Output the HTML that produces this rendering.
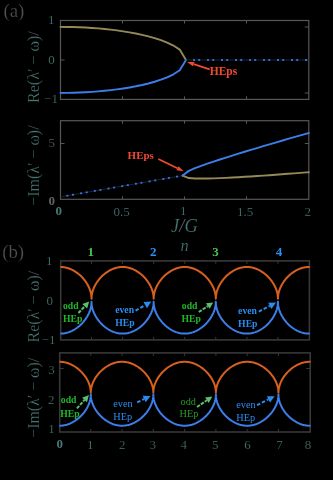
<!DOCTYPE html>
<html><head><meta charset="utf-8"><style>
html,body{margin:0;padding:0;background:#000;width:333px;height:480px;overflow:hidden}
svg{display:block;will-change:transform}
text{font-family:"Liberation Serif", serif}
</style></head><body>
<svg width="333" height="480" viewBox="0 0 333 480">
<rect width="333" height="480" fill="#000"/>
<rect x="60.5" y="20.5" width="248.3" height="78.9" fill="none" stroke="#575757" stroke-width="1.2"/>
<line x1="122.5" y1="20.5" x2="122.5" y2="23.5" stroke="#575757" stroke-width="1" />
<line x1="122.5" y1="99.4" x2="122.5" y2="96.4" stroke="#575757" stroke-width="1" />
<line x1="184.5" y1="20.5" x2="184.5" y2="23.5" stroke="#575757" stroke-width="1" />
<line x1="184.5" y1="99.4" x2="184.5" y2="96.4" stroke="#575757" stroke-width="1" />
<line x1="246.5" y1="20.5" x2="246.5" y2="23.5" stroke="#575757" stroke-width="1" />
<line x1="246.5" y1="99.4" x2="246.5" y2="96.4" stroke="#575757" stroke-width="1" />
<line x1="60.5" y1="27" x2="64.5" y2="27" stroke="#575757" stroke-width="1" />
<line x1="308.8" y1="27" x2="304.8" y2="27" stroke="#575757" stroke-width="1" />
<line x1="60.5" y1="60" x2="64.5" y2="60" stroke="#575757" stroke-width="1" />
<line x1="308.8" y1="60" x2="304.8" y2="60" stroke="#575757" stroke-width="1" />
<line x1="60.5" y1="93" x2="64.5" y2="93" stroke="#575757" stroke-width="1" />
<line x1="308.8" y1="93" x2="304.8" y2="93" stroke="#575757" stroke-width="1" />
<path d="M60.5,26.9 66.78,26.94 73.05,27.07 79.33,27.27 85.6,27.57 91.88,27.95 98.15,28.42 104.42,28.99 110.7,29.66 116.97,30.43 123.25,31.32 129.53,32.34 135.8,33.5 142.07,34.82 148.35,36.33 154.62,38.07 160.9,40.1 167.18,42.52 173.45,45.52 179.72,49.6 186,59.9" fill="none" stroke="#958a56" stroke-width="1.9" stroke-linejoin="round" stroke-linecap="round" />
<path d="M60.5,92.9 66.78,92.86 73.05,92.73 79.33,92.53 85.6,92.23 91.88,91.85 98.15,91.38 104.42,90.81 110.7,90.14 116.97,89.37 123.25,88.48 129.53,87.46 135.8,86.3 142.07,84.98 148.35,83.47 154.62,81.73 160.9,79.7 167.18,77.28 173.45,74.28 179.72,70.2 186,59.9" fill="none" stroke="#3d7eea" stroke-width="1.9" stroke-linejoin="round" stroke-linecap="round" />
<line x1="186" y1="60" x2="308.8" y2="60" stroke="#15233f" stroke-width="1" />
<rect x="193" y="59.1" width="2" height="1.8" fill="#3a74dc"/>
<rect x="198.2" y="59.1" width="2" height="1.8" fill="#3a74dc"/>
<rect x="207" y="59.1" width="2" height="1.8" fill="#3a74dc"/>
<rect x="212.2" y="59.1" width="2" height="1.8" fill="#3a74dc"/>
<rect x="221" y="59.1" width="2" height="1.8" fill="#3a74dc"/>
<rect x="226.2" y="59.1" width="2" height="1.8" fill="#3a74dc"/>
<rect x="235" y="59.1" width="2" height="1.8" fill="#3a74dc"/>
<rect x="240.2" y="59.1" width="2" height="1.8" fill="#3a74dc"/>
<rect x="249" y="59.1" width="2" height="1.8" fill="#3a74dc"/>
<rect x="254.2" y="59.1" width="2" height="1.8" fill="#3a74dc"/>
<rect x="263" y="59.1" width="2" height="1.8" fill="#3a74dc"/>
<rect x="268.2" y="59.1" width="2" height="1.8" fill="#3a74dc"/>
<rect x="277" y="59.1" width="2" height="1.8" fill="#3a74dc"/>
<rect x="282.2" y="59.1" width="2" height="1.8" fill="#3a74dc"/>
<rect x="291" y="59.1" width="2" height="1.8" fill="#3a74dc"/>
<rect x="296.2" y="59.1" width="2" height="1.8" fill="#3a74dc"/>
<rect x="305" y="59.1" width="2" height="1.8" fill="#3a74dc"/>
<line x1="209.7" y1="69.4" x2="193.66" y2="64.17" stroke="#f04a32" stroke-width="1.7" />
<polygon points="187,62 194.37,61.98 192.94,66.36" fill="#f04a32"/>
<rect x="60.5" y="120.7" width="248.3" height="78.6" fill="none" stroke="#575757" stroke-width="1.2"/>
<line x1="122.5" y1="120.7" x2="122.5" y2="123.7" stroke="#575757" stroke-width="1" />
<line x1="122.5" y1="199.3" x2="122.5" y2="196.3" stroke="#575757" stroke-width="1" />
<line x1="184.5" y1="120.7" x2="184.5" y2="123.7" stroke="#575757" stroke-width="1" />
<line x1="184.5" y1="199.3" x2="184.5" y2="196.3" stroke="#575757" stroke-width="1" />
<line x1="246.5" y1="120.7" x2="246.5" y2="123.7" stroke="#575757" stroke-width="1" />
<line x1="246.5" y1="199.3" x2="246.5" y2="196.3" stroke="#575757" stroke-width="1" />
<line x1="60.5" y1="143.5" x2="64.5" y2="143.5" stroke="#575757" stroke-width="1" />
<line x1="308.8" y1="143.5" x2="304.8" y2="143.5" stroke="#575757" stroke-width="1" />
<line x1="60.5" y1="196.9" x2="182.6" y2="175.6" stroke="#15233f" stroke-width="1" />
<rect x="66.4" y="194.8" width="2" height="1.8" fill="#3a74dc"/>
<rect x="72" y="193.82" width="2" height="1.8" fill="#3a74dc"/>
<rect x="80.1" y="192.41" width="2" height="1.8" fill="#3a74dc"/>
<rect x="85.7" y="191.43" width="2" height="1.8" fill="#3a74dc"/>
<rect x="93.8" y="190.02" width="2" height="1.8" fill="#3a74dc"/>
<rect x="99.4" y="189.04" width="2" height="1.8" fill="#3a74dc"/>
<rect x="107.5" y="187.63" width="2" height="1.8" fill="#3a74dc"/>
<rect x="113.1" y="186.65" width="2" height="1.8" fill="#3a74dc"/>
<rect x="121.2" y="185.24" width="2" height="1.8" fill="#3a74dc"/>
<rect x="126.8" y="184.26" width="2" height="1.8" fill="#3a74dc"/>
<rect x="134.9" y="182.85" width="2" height="1.8" fill="#3a74dc"/>
<rect x="140.5" y="181.87" width="2" height="1.8" fill="#3a74dc"/>
<rect x="148.6" y="180.46" width="2" height="1.8" fill="#3a74dc"/>
<rect x="154.2" y="179.48" width="2" height="1.8" fill="#3a74dc"/>
<rect x="162.3" y="178.07" width="2" height="1.8" fill="#3a74dc"/>
<rect x="167.9" y="177.09" width="2" height="1.8" fill="#3a74dc"/>
<rect x="176" y="175.68" width="2" height="1.8" fill="#3a74dc"/>
<path d="M182.6,175.6 188.8,178.06 195,178.47 201.2,178.57 207.4,178.51 213.6,178.35 219.8,178.12 226,177.85 232.2,177.53 238.4,177.19 244.6,176.82 250.8,176.43 257,176.03 263.2,175.61 269.4,175.18 275.6,174.73 281.8,174.28 288,173.82 294.2,173.35 300.4,172.88 306.6,172.4 308.8,172.23" fill="none" stroke="#958a56" stroke-width="1.9" stroke-linejoin="round" stroke-linecap="round" />
<path d="M182.6,175.6 188.8,170.88 195,168.21 201.2,165.85 207.4,163.65 213.6,161.55 219.8,159.52 226,157.53 232.2,155.59 238.4,153.67 244.6,151.78 250.8,149.91 257,148.05 263.2,146.21 269.4,144.38 275.6,142.57 281.8,140.76 288,138.96 294.2,137.17 300.4,135.38 306.6,133.6 308.8,132.97" fill="none" stroke="#3d7eea" stroke-width="1.9" stroke-linejoin="round" stroke-linecap="round" />
<line x1="158.3" y1="158.9" x2="177.41" y2="168.23" stroke="#f04a32" stroke-width="1.7" />
<polygon points="183.7,171.3 176.4,170.3 178.42,166.16" fill="#f04a32"/>
<rect x="60.7" y="260.9" width="248.7" height="79" fill="none" stroke="#383838" stroke-width="1.6"/>
<line x1="91.52" y1="260.9" x2="91.52" y2="263.9" stroke="#383838" stroke-width="1" />
<line x1="91.52" y1="339.9" x2="91.52" y2="336.9" stroke="#383838" stroke-width="1" />
<line x1="122.59" y1="260.9" x2="122.59" y2="263.9" stroke="#383838" stroke-width="1" />
<line x1="122.59" y1="339.9" x2="122.59" y2="336.9" stroke="#383838" stroke-width="1" />
<line x1="153.66" y1="260.9" x2="153.66" y2="263.9" stroke="#383838" stroke-width="1" />
<line x1="153.66" y1="339.9" x2="153.66" y2="336.9" stroke="#383838" stroke-width="1" />
<line x1="184.73" y1="260.9" x2="184.73" y2="263.9" stroke="#383838" stroke-width="1" />
<line x1="184.73" y1="339.9" x2="184.73" y2="336.9" stroke="#383838" stroke-width="1" />
<line x1="215.8" y1="260.9" x2="215.8" y2="263.9" stroke="#383838" stroke-width="1" />
<line x1="215.8" y1="339.9" x2="215.8" y2="336.9" stroke="#383838" stroke-width="1" />
<line x1="246.87" y1="260.9" x2="246.87" y2="263.9" stroke="#383838" stroke-width="1" />
<line x1="246.87" y1="339.9" x2="246.87" y2="336.9" stroke="#383838" stroke-width="1" />
<line x1="277.94" y1="260.9" x2="277.94" y2="263.9" stroke="#383838" stroke-width="1" />
<line x1="277.94" y1="339.9" x2="277.94" y2="336.9" stroke="#383838" stroke-width="1" />
<path d="M61.23,267.01 62,267.05 62.78,267.11 63.56,267.2 64.33,267.31 65.11,267.44 65.89,267.6 66.66,267.79 67.44,268 68.22,268.23 68.99,268.5 69.77,268.78 70.55,269.1 71.32,269.44 72.1,269.8 72.88,270.2 73.65,270.62 74.43,271.07 75.21,271.55 75.98,272.06 76.76,272.6 77.54,273.17 78.32,273.78 79.09,274.42 79.87,275.1 80.65,275.81 81.42,276.57 82.2,277.37 82.98,278.22 83.75,279.13 84.53,280.09 85.31,281.12 86.08,282.23 86.86,283.44 87.64,284.75 88.41,286.22 89.19,287.9 89.66,289.04 89.97,289.89 90.43,291.35 90.74,292.5 90.9,293.16 91.21,294.81 91.36,295.98 91.46,297.02 91.52,298.8 91.58,297.02 91.68,295.98 91.83,294.81 92.14,293.16 92.3,292.5 92.61,291.35 93.07,289.89 93.38,289.04 93.85,287.9 94.63,286.22 95.4,284.75 96.18,283.44 96.96,282.23 97.73,281.12 98.51,280.09 99.29,279.13 100.06,278.22 100.84,277.37 101.62,276.57 102.39,275.81 103.17,275.1 103.95,274.42 104.72,273.78 105.5,273.17 106.28,272.6 107.06,272.06 107.83,271.55 108.61,271.07 109.39,270.62 110.16,270.2 110.94,269.8 111.72,269.44 112.49,269.1 113.27,268.78 114.05,268.5 114.82,268.23 115.6,268 116.38,267.79 117.15,267.6 117.93,267.44 118.71,267.31 119.48,267.2 120.26,267.11 121.04,267.05 121.81,267.01 122.59,267 123.37,267.01 124.14,267.05 124.92,267.11 125.7,267.2 126.47,267.31 127.25,267.44 128.03,267.6 128.8,267.79 129.58,268 130.36,268.23 131.13,268.5 131.91,268.78 132.69,269.1 133.46,269.44 134.24,269.8 135.02,270.2 135.79,270.62 136.57,271.07 137.35,271.55 138.12,272.06 138.9,272.6 139.68,273.17 140.46,273.78 141.23,274.42 142.01,275.1 142.79,275.81 143.56,276.57 144.34,277.37 145.12,278.22 145.89,279.13 146.67,280.09 147.45,281.12 148.22,282.23 149,283.44 149.78,284.75 150.55,286.22 151.33,287.9 151.8,289.04 152.11,289.89 152.57,291.35 152.88,292.5 153.04,293.16 153.35,294.81 153.5,295.98 153.6,297.02 153.66,298.8 153.72,297.02 153.82,295.98 153.97,294.81 154.28,293.16 154.44,292.5 154.75,291.35 155.21,289.89 155.52,289.04 155.99,287.9 156.77,286.22 157.54,284.75 158.32,283.44 159.1,282.23 159.87,281.12 160.65,280.09 161.43,279.13 162.2,278.22 162.98,277.37 163.76,276.57 164.53,275.81 165.31,275.1 166.09,274.42 166.86,273.78 167.64,273.17 168.42,272.6 169.19,272.06 169.97,271.55 170.75,271.07 171.53,270.62 172.3,270.2 173.08,269.8 173.86,269.44 174.63,269.1 175.41,268.78 176.19,268.5 176.96,268.23 177.74,268 178.52,267.79 179.29,267.6 180.07,267.44 180.85,267.31 181.62,267.2 182.4,267.11 183.18,267.05 183.95,267.01 184.73,267 185.51,267.01 186.28,267.05 187.06,267.11 187.84,267.2 188.61,267.31 189.39,267.44 190.17,267.6 190.94,267.79 191.72,268 192.5,268.23 193.27,268.5 194.05,268.78 194.83,269.1 195.6,269.44 196.38,269.8 197.16,270.2 197.93,270.62 198.71,271.07 199.49,271.55 200.26,272.06 201.04,272.6 201.82,273.17 202.6,273.78 203.37,274.42 204.15,275.1 204.93,275.81 205.7,276.57 206.48,277.37 207.26,278.22 208.03,279.13 208.81,280.09 209.59,281.12 210.36,282.23 211.14,283.44 211.92,284.75 212.69,286.22 213.47,287.9 213.94,289.04 214.25,289.89 214.71,291.35 215.02,292.5 215.18,293.16 215.49,294.81 215.64,295.98 215.74,297.02 215.8,298.8 215.86,297.02 215.96,295.98 216.11,294.81 216.42,293.16 216.58,292.5 216.89,291.35 217.35,289.89 217.66,289.04 218.13,287.9 218.91,286.22 219.68,284.75 220.46,283.44 221.24,282.23 222.01,281.12 222.79,280.09 223.57,279.13 224.34,278.22 225.12,277.37 225.9,276.57 226.67,275.81 227.45,275.1 228.23,274.42 229,273.78 229.78,273.17 230.56,272.6 231.33,272.06 232.11,271.55 232.89,271.07 233.67,270.62 234.44,270.2 235.22,269.8 236,269.44 236.77,269.1 237.55,268.78 238.33,268.5 239.1,268.23 239.88,268 240.66,267.79 241.43,267.6 242.21,267.44 242.99,267.31 243.76,267.2 244.54,267.11 245.32,267.05 246.09,267.01 246.87,267 247.65,267.01 248.42,267.05 249.2,267.11 249.98,267.2 250.75,267.31 251.53,267.44 252.31,267.6 253.08,267.79 253.86,268 254.64,268.23 255.41,268.5 256.19,268.78 256.97,269.1 257.74,269.44 258.52,269.8 259.3,270.2 260.07,270.62 260.85,271.07 261.63,271.55 262.41,272.06 263.18,272.6 263.96,273.17 264.74,273.78 265.51,274.42 266.29,275.1 267.07,275.81 267.84,276.57 268.62,277.37 269.4,278.22 270.17,279.13 270.95,280.09 271.73,281.12 272.5,282.23 273.28,283.44 274.06,284.75 274.83,286.22 275.61,287.9 276.08,289.04 276.39,289.89 276.85,291.35 277.16,292.5 277.32,293.16 277.63,294.81 277.78,295.98 277.88,297.02 277.94,298.8 278,297.02 278.1,295.98 278.25,294.81 278.56,293.16 278.72,292.5 279.03,291.35 279.49,289.89 279.8,289.04 280.27,287.9 281.05,286.22 281.82,284.75 282.6,283.44 283.38,282.23 284.15,281.12 284.93,280.09 285.71,279.13 286.48,278.22 287.26,277.37 288.04,276.57 288.81,275.81 289.59,275.1 290.37,274.42 291.14,273.78 291.92,273.17 292.7,272.6 293.48,272.06 294.25,271.55 295.03,271.07 295.81,270.62 296.58,270.2 297.36,269.8 298.14,269.44 298.91,269.1 299.69,268.78 300.47,268.5 301.24,268.23 302.02,268 302.8,267.79 303.57,267.6 304.35,267.44 305.13,267.31 305.9,267.2 306.68,267.11 307.46,267.05 308.23,267.01 309.01,267" fill="none" stroke="#d8601e" stroke-width="2" stroke-linejoin="round" stroke-linecap="round" />
<path d="M61.23,333.59 62,333.55 62.78,333.49 63.56,333.4 64.33,333.29 65.11,333.16 65.89,333 66.66,332.81 67.44,332.6 68.22,332.36 68.99,332.1 69.77,331.81 70.55,331.5 71.32,331.16 72.1,330.79 72.88,330.39 73.65,329.97 74.43,329.52 75.21,329.04 75.98,328.52 76.76,327.98 77.54,327.41 78.32,326.8 79.09,326.16 79.87,325.48 80.65,324.76 81.42,324 82.2,323.19 82.98,322.34 83.75,321.43 84.53,320.47 85.31,319.43 86.08,318.32 86.86,317.11 87.64,315.79 88.41,314.32 89.19,312.64 89.66,311.49 89.97,310.64 90.43,309.18 90.74,308.02 90.9,307.35 91.21,305.7 91.36,304.53 91.46,303.49 91.52,301.7 91.58,303.49 91.68,304.53 91.83,305.7 92.14,307.35 92.3,308.02 92.61,309.18 93.07,310.64 93.38,311.49 93.85,312.64 94.63,314.32 95.4,315.79 96.18,317.11 96.96,318.32 97.73,319.43 98.51,320.47 99.29,321.43 100.06,322.34 100.84,323.19 101.62,324 102.39,324.76 103.17,325.48 103.95,326.16 104.72,326.8 105.5,327.41 106.28,327.98 107.06,328.52 107.83,329.04 108.61,329.52 109.39,329.97 110.16,330.39 110.94,330.79 111.72,331.16 112.49,331.5 113.27,331.81 114.05,332.1 114.82,332.36 115.6,332.6 116.38,332.81 117.15,333 117.93,333.16 118.71,333.29 119.48,333.4 120.26,333.49 121.04,333.55 121.81,333.59 122.59,333.6 123.37,333.59 124.14,333.55 124.92,333.49 125.7,333.4 126.47,333.29 127.25,333.16 128.03,333 128.8,332.81 129.58,332.6 130.36,332.36 131.13,332.1 131.91,331.81 132.69,331.5 133.46,331.16 134.24,330.79 135.02,330.39 135.79,329.97 136.57,329.52 137.35,329.04 138.12,328.52 138.9,327.98 139.68,327.41 140.46,326.8 141.23,326.16 142.01,325.48 142.79,324.76 143.56,324 144.34,323.19 145.12,322.34 145.89,321.43 146.67,320.47 147.45,319.43 148.22,318.32 149,317.11 149.78,315.79 150.55,314.32 151.33,312.64 151.8,311.49 152.11,310.64 152.57,309.18 152.88,308.02 153.04,307.35 153.35,305.7 153.5,304.53 153.6,303.49 153.66,301.7 153.72,303.49 153.82,304.53 153.97,305.7 154.28,307.35 154.44,308.02 154.75,309.18 155.21,310.64 155.52,311.49 155.99,312.64 156.77,314.32 157.54,315.79 158.32,317.11 159.1,318.32 159.87,319.43 160.65,320.47 161.43,321.43 162.2,322.34 162.98,323.19 163.76,324 164.53,324.76 165.31,325.48 166.09,326.16 166.86,326.8 167.64,327.41 168.42,327.98 169.19,328.52 169.97,329.04 170.75,329.52 171.53,329.97 172.3,330.39 173.08,330.79 173.86,331.16 174.63,331.5 175.41,331.81 176.19,332.1 176.96,332.36 177.74,332.6 178.52,332.81 179.29,333 180.07,333.16 180.85,333.29 181.62,333.4 182.4,333.49 183.18,333.55 183.95,333.59 184.73,333.6 185.51,333.59 186.28,333.55 187.06,333.49 187.84,333.4 188.61,333.29 189.39,333.16 190.17,333 190.94,332.81 191.72,332.6 192.5,332.36 193.27,332.1 194.05,331.81 194.83,331.5 195.6,331.16 196.38,330.79 197.16,330.39 197.93,329.97 198.71,329.52 199.49,329.04 200.26,328.52 201.04,327.98 201.82,327.41 202.6,326.8 203.37,326.16 204.15,325.48 204.93,324.76 205.7,324 206.48,323.19 207.26,322.34 208.03,321.43 208.81,320.47 209.59,319.43 210.36,318.32 211.14,317.11 211.92,315.79 212.69,314.32 213.47,312.64 213.94,311.49 214.25,310.64 214.71,309.18 215.02,308.02 215.18,307.35 215.49,305.7 215.64,304.53 215.74,303.49 215.8,301.7 215.86,303.49 215.96,304.53 216.11,305.7 216.42,307.35 216.58,308.02 216.89,309.18 217.35,310.64 217.66,311.49 218.13,312.64 218.91,314.32 219.68,315.79 220.46,317.11 221.24,318.32 222.01,319.43 222.79,320.47 223.57,321.43 224.34,322.34 225.12,323.19 225.9,324 226.67,324.76 227.45,325.48 228.23,326.16 229,326.8 229.78,327.41 230.56,327.98 231.33,328.52 232.11,329.04 232.89,329.52 233.67,329.97 234.44,330.39 235.22,330.79 236,331.16 236.77,331.5 237.55,331.81 238.33,332.1 239.1,332.36 239.88,332.6 240.66,332.81 241.43,333 242.21,333.16 242.99,333.29 243.76,333.4 244.54,333.49 245.32,333.55 246.09,333.59 246.87,333.6 247.65,333.59 248.42,333.55 249.2,333.49 249.98,333.4 250.75,333.29 251.53,333.16 252.31,333 253.08,332.81 253.86,332.6 254.64,332.36 255.41,332.1 256.19,331.81 256.97,331.5 257.74,331.16 258.52,330.79 259.3,330.39 260.07,329.97 260.85,329.52 261.63,329.04 262.41,328.52 263.18,327.98 263.96,327.41 264.74,326.8 265.51,326.16 266.29,325.48 267.07,324.76 267.84,324 268.62,323.19 269.4,322.34 270.17,321.43 270.95,320.47 271.73,319.43 272.5,318.32 273.28,317.11 274.06,315.79 274.83,314.32 275.61,312.64 276.08,311.49 276.39,310.64 276.85,309.18 277.16,308.02 277.32,307.35 277.63,305.7 277.78,304.53 277.88,303.49 277.94,301.7 278,303.49 278.1,304.53 278.25,305.7 278.56,307.35 278.72,308.02 279.03,309.18 279.49,310.64 279.8,311.49 280.27,312.64 281.05,314.32 281.82,315.79 282.6,317.11 283.38,318.32 284.15,319.43 284.93,320.47 285.71,321.43 286.48,322.34 287.26,323.19 288.04,324 288.81,324.76 289.59,325.48 290.37,326.16 291.14,326.8 291.92,327.41 292.7,327.98 293.48,328.52 294.25,329.04 295.03,329.52 295.81,329.97 296.58,330.39 297.36,330.79 298.14,331.16 298.91,331.5 299.69,331.81 300.47,332.1 301.24,332.36 302.02,332.6 302.8,332.81 303.57,333 304.35,333.16 305.13,333.29 305.9,333.4 306.68,333.49 307.46,333.55 308.23,333.59 309.01,333.6" fill="none" stroke="#3d7eea" stroke-width="2" stroke-linejoin="round" stroke-linecap="round" />
<line x1="78.4" y1="313" x2="84.73" y2="306.32" stroke="#5cbf6e" stroke-width="2" stroke-dasharray="3.5,1.2"/>
<polygon points="89.2,301.6 87.13,308.59 82.33,304.05" fill="#5cbf6e"/>
<line x1="135.6" y1="310.7" x2="145.24" y2="305.11" stroke="#2a8cf0" stroke-width="2" stroke-dasharray="3.5,2"/>
<polygon points="151.3,301.6 147,308.14 143.49,302.08" fill="#2a8cf0"/>
<line x1="198.8" y1="312" x2="207.77" y2="306.08" stroke="#5cbf6e" stroke-width="2" stroke-dasharray="3.5,1.2"/>
<polygon points="213.2,302.5 209.59,308.83 205.96,303.32" fill="#5cbf6e"/>
<line x1="258.8" y1="311.6" x2="269.8" y2="305.85" stroke="#2a8cf0" stroke-width="2" stroke-dasharray="3.5,2"/>
<polygon points="276,302.6 271.42,308.95 268.18,302.74" fill="#2a8cf0"/>
<rect x="59.7" y="352.9" width="250.5" height="79.1" fill="none" stroke="#383838" stroke-width="1.6"/>
<line x1="90.78" y1="352.9" x2="90.78" y2="355.9" stroke="#383838" stroke-width="1" />
<line x1="90.78" y1="432" x2="90.78" y2="429" stroke="#383838" stroke-width="1" />
<line x1="122.06" y1="352.9" x2="122.06" y2="355.9" stroke="#383838" stroke-width="1" />
<line x1="122.06" y1="432" x2="122.06" y2="429" stroke="#383838" stroke-width="1" />
<line x1="153.34" y1="352.9" x2="153.34" y2="355.9" stroke="#383838" stroke-width="1" />
<line x1="153.34" y1="432" x2="153.34" y2="429" stroke="#383838" stroke-width="1" />
<line x1="184.62" y1="352.9" x2="184.62" y2="355.9" stroke="#383838" stroke-width="1" />
<line x1="184.62" y1="432" x2="184.62" y2="429" stroke="#383838" stroke-width="1" />
<line x1="215.9" y1="352.9" x2="215.9" y2="355.9" stroke="#383838" stroke-width="1" />
<line x1="215.9" y1="432" x2="215.9" y2="429" stroke="#383838" stroke-width="1" />
<line x1="247.18" y1="352.9" x2="247.18" y2="355.9" stroke="#383838" stroke-width="1" />
<line x1="247.18" y1="432" x2="247.18" y2="429" stroke="#383838" stroke-width="1" />
<line x1="278.46" y1="352.9" x2="278.46" y2="355.9" stroke="#383838" stroke-width="1" />
<line x1="278.46" y1="432" x2="278.46" y2="429" stroke="#383838" stroke-width="1" />
<line x1="59.7" y1="368.5" x2="63.7" y2="368.5" stroke="#383838" stroke-width="1" />
<line x1="310.2" y1="368.5" x2="306.2" y2="368.5" stroke="#383838" stroke-width="1" />
<path d="M60.28,361.81 61.06,361.85 61.85,361.91 62.63,361.99 63.41,362.1 64.19,362.23 64.97,362.39 65.76,362.57 66.54,362.77 67.32,363 68.1,363.26 68.88,363.54 69.67,363.84 70.45,364.18 71.23,364.53 72.01,364.92 72.79,365.33 73.58,365.77 74.36,366.24 75.14,366.73 75.92,367.26 76.7,367.82 77.49,368.41 78.27,369.03 79.05,369.69 79.83,370.39 80.61,371.13 81.4,371.91 82.18,372.74 82.96,373.62 83.74,374.56 84.52,375.57 85.31,376.65 86.09,377.82 86.87,379.11 87.65,380.54 88.43,382.17 88.9,383.29 89.22,384.12 89.69,385.53 90,386.66 90.15,387.31 90.47,388.91 90.62,390.05 90.72,391.06 90.78,392.8 90.84,391.06 90.94,390.05 91.09,388.91 91.41,387.31 91.56,386.66 91.87,385.53 92.34,384.12 92.66,383.29 93.13,382.17 93.91,380.54 94.69,379.11 95.47,377.82 96.25,376.65 97.04,375.57 97.82,374.56 98.6,373.62 99.38,372.74 100.16,371.91 100.95,371.13 101.73,370.39 102.51,369.69 103.29,369.03 104.07,368.41 104.86,367.82 105.64,367.26 106.42,366.73 107.2,366.24 107.98,365.77 108.77,365.33 109.55,364.92 110.33,364.53 111.11,364.18 111.89,363.84 112.68,363.54 113.46,363.26 114.24,363 115.02,362.77 115.8,362.57 116.59,362.39 117.37,362.23 118.15,362.1 118.93,361.99 119.71,361.91 120.5,361.85 121.28,361.81 122.06,361.8 122.84,361.81 123.62,361.85 124.41,361.91 125.19,361.99 125.97,362.1 126.75,362.23 127.53,362.39 128.32,362.57 129.1,362.77 129.88,363 130.66,363.26 131.44,363.54 132.23,363.84 133.01,364.18 133.79,364.53 134.57,364.92 135.35,365.33 136.14,365.77 136.92,366.24 137.7,366.73 138.48,367.26 139.26,367.82 140.05,368.41 140.83,369.03 141.61,369.69 142.39,370.39 143.17,371.13 143.96,371.91 144.74,372.74 145.52,373.62 146.3,374.56 147.08,375.57 147.87,376.65 148.65,377.82 149.43,379.11 150.21,380.54 150.99,382.17 151.46,383.29 151.78,384.12 152.25,385.53 152.56,386.66 152.71,387.31 153.03,388.91 153.18,390.05 153.28,391.06 153.34,392.8 153.4,391.06 153.5,390.05 153.65,388.91 153.97,387.31 154.12,386.66 154.43,385.53 154.9,384.12 155.22,383.29 155.69,382.17 156.47,380.54 157.25,379.11 158.03,377.82 158.81,376.65 159.6,375.57 160.38,374.56 161.16,373.62 161.94,372.74 162.72,371.91 163.51,371.13 164.29,370.39 165.07,369.69 165.85,369.03 166.63,368.41 167.42,367.82 168.2,367.26 168.98,366.73 169.76,366.24 170.54,365.77 171.33,365.33 172.11,364.92 172.89,364.53 173.67,364.18 174.45,363.84 175.24,363.54 176.02,363.26 176.8,363 177.58,362.77 178.36,362.57 179.15,362.39 179.93,362.23 180.71,362.1 181.49,361.99 182.27,361.91 183.06,361.85 183.84,361.81 184.62,361.8 185.4,361.81 186.18,361.85 186.97,361.91 187.75,361.99 188.53,362.1 189.31,362.23 190.09,362.39 190.88,362.57 191.66,362.77 192.44,363 193.22,363.26 194,363.54 194.79,363.84 195.57,364.18 196.35,364.53 197.13,364.92 197.91,365.33 198.7,365.77 199.48,366.24 200.26,366.73 201.04,367.26 201.82,367.82 202.61,368.41 203.39,369.03 204.17,369.69 204.95,370.39 205.73,371.13 206.52,371.91 207.3,372.74 208.08,373.62 208.86,374.56 209.64,375.57 210.43,376.65 211.21,377.82 211.99,379.11 212.77,380.54 213.55,382.17 214.02,383.29 214.34,384.12 214.81,385.53 215.12,386.66 215.27,387.31 215.59,388.91 215.74,390.05 215.84,391.06 215.9,392.8 215.96,391.06 216.06,390.05 216.21,388.91 216.53,387.31 216.68,386.66 216.99,385.53 217.46,384.12 217.78,383.29 218.25,382.17 219.03,380.54 219.81,379.11 220.59,377.82 221.37,376.65 222.16,375.57 222.94,374.56 223.72,373.62 224.5,372.74 225.28,371.91 226.07,371.13 226.85,370.39 227.63,369.69 228.41,369.03 229.19,368.41 229.98,367.82 230.76,367.26 231.54,366.73 232.32,366.24 233.1,365.77 233.89,365.33 234.67,364.92 235.45,364.53 236.23,364.18 237.01,363.84 237.8,363.54 238.58,363.26 239.36,363 240.14,362.77 240.92,362.57 241.71,362.39 242.49,362.23 243.27,362.1 244.05,361.99 244.83,361.91 245.62,361.85 246.4,361.81 247.18,361.8 247.96,361.81 248.74,361.85 249.53,361.91 250.31,361.99 251.09,362.1 251.87,362.23 252.65,362.39 253.44,362.57 254.22,362.77 255,363 255.78,363.26 256.56,363.54 257.35,363.84 258.13,364.18 258.91,364.53 259.69,364.92 260.47,365.33 261.26,365.77 262.04,366.24 262.82,366.73 263.6,367.26 264.38,367.82 265.17,368.41 265.95,369.03 266.73,369.69 267.51,370.39 268.29,371.13 269.08,371.91 269.86,372.74 270.64,373.62 271.42,374.56 272.2,375.57 272.99,376.65 273.77,377.82 274.55,379.11 275.33,380.54 276.11,382.17 276.58,383.29 276.9,384.12 277.37,385.53 277.68,386.66 277.83,387.31 278.15,388.91 278.3,390.05 278.4,391.06 278.46,392.8 278.52,391.06 278.62,390.05 278.77,388.91 279.09,387.31 279.24,386.66 279.55,385.53 280.02,384.12 280.34,383.29 280.81,382.17 281.59,380.54 282.37,379.11 283.15,377.82 283.93,376.65 284.72,375.57 285.5,374.56 286.28,373.62 287.06,372.74 287.84,371.91 288.63,371.13 289.41,370.39 290.19,369.69 290.97,369.03 291.75,368.41 292.54,367.82 293.32,367.26 294.1,366.73 294.88,366.24 295.66,365.77 296.45,365.33 297.23,364.92 298.01,364.53 298.79,364.18 299.57,363.84 300.36,363.54 301.14,363.26 301.92,363 302.7,362.77 303.48,362.57 304.27,362.39 305.05,362.23 305.83,362.1 306.61,361.99 307.39,361.91 308.18,361.85 308.96,361.81 309.74,361.8" fill="none" stroke="#d8601e" stroke-width="2" stroke-linejoin="round" stroke-linecap="round" />
<path d="M60.28,425.69 61.06,425.65 61.85,425.59 62.63,425.51 63.41,425.4 64.19,425.26 64.97,425.11 65.76,424.92 66.54,424.72 67.32,424.49 68.1,424.23 68.88,423.95 69.67,423.64 70.45,423.3 71.23,422.94 72.01,422.55 72.79,422.14 73.58,421.69 74.36,421.22 75.14,420.72 75.92,420.19 76.7,419.62 77.49,419.03 78.27,418.4 79.05,417.73 79.83,417.02 80.61,416.28 81.4,415.49 82.18,414.65 82.96,413.76 83.74,412.81 84.52,411.8 85.31,410.71 86.09,409.52 86.87,408.22 87.65,406.78 88.43,405.13 88.9,404 89.22,403.17 89.69,401.74 90,400.6 90.15,399.95 90.47,398.32 90.62,397.17 90.72,396.15 90.78,394.4 90.84,396.15 90.94,397.17 91.09,398.32 91.41,399.95 91.56,400.6 91.87,401.74 92.34,403.17 92.66,404 93.13,405.13 93.91,406.78 94.69,408.22 95.47,409.52 96.25,410.71 97.04,411.8 97.82,412.81 98.6,413.76 99.38,414.65 100.16,415.49 100.95,416.28 101.73,417.02 102.51,417.73 103.29,418.4 104.07,419.03 104.86,419.62 105.64,420.19 106.42,420.72 107.2,421.22 107.98,421.69 108.77,422.14 109.55,422.55 110.33,422.94 111.11,423.3 111.89,423.64 112.68,423.95 113.46,424.23 114.24,424.49 115.02,424.72 115.8,424.92 116.59,425.11 117.37,425.26 118.15,425.4 118.93,425.51 119.71,425.59 120.5,425.65 121.28,425.69 122.06,425.7 122.84,425.69 123.62,425.65 124.41,425.59 125.19,425.51 125.97,425.4 126.75,425.26 127.53,425.11 128.32,424.92 129.1,424.72 129.88,424.49 130.66,424.23 131.44,423.95 132.23,423.64 133.01,423.3 133.79,422.94 134.57,422.55 135.35,422.14 136.14,421.69 136.92,421.22 137.7,420.72 138.48,420.19 139.26,419.62 140.05,419.03 140.83,418.4 141.61,417.73 142.39,417.02 143.17,416.28 143.96,415.49 144.74,414.65 145.52,413.76 146.3,412.81 147.08,411.8 147.87,410.71 148.65,409.52 149.43,408.22 150.21,406.78 150.99,405.13 151.46,404 151.78,403.17 152.25,401.74 152.56,400.6 152.71,399.95 153.03,398.32 153.18,397.17 153.28,396.15 153.34,394.4 153.4,396.15 153.5,397.17 153.65,398.32 153.97,399.95 154.12,400.6 154.43,401.74 154.9,403.17 155.22,404 155.69,405.13 156.47,406.78 157.25,408.22 158.03,409.52 158.81,410.71 159.6,411.8 160.38,412.81 161.16,413.76 161.94,414.65 162.72,415.49 163.51,416.28 164.29,417.02 165.07,417.73 165.85,418.4 166.63,419.03 167.42,419.62 168.2,420.19 168.98,420.72 169.76,421.22 170.54,421.69 171.33,422.14 172.11,422.55 172.89,422.94 173.67,423.3 174.45,423.64 175.24,423.95 176.02,424.23 176.8,424.49 177.58,424.72 178.36,424.92 179.15,425.11 179.93,425.26 180.71,425.4 181.49,425.51 182.27,425.59 183.06,425.65 183.84,425.69 184.62,425.7 185.4,425.69 186.18,425.65 186.97,425.59 187.75,425.51 188.53,425.4 189.31,425.26 190.09,425.11 190.88,424.92 191.66,424.72 192.44,424.49 193.22,424.23 194,423.95 194.79,423.64 195.57,423.3 196.35,422.94 197.13,422.55 197.91,422.14 198.7,421.69 199.48,421.22 200.26,420.72 201.04,420.19 201.82,419.62 202.61,419.03 203.39,418.4 204.17,417.73 204.95,417.02 205.73,416.28 206.52,415.49 207.3,414.65 208.08,413.76 208.86,412.81 209.64,411.8 210.43,410.71 211.21,409.52 211.99,408.22 212.77,406.78 213.55,405.13 214.02,404 214.34,403.17 214.81,401.74 215.12,400.6 215.27,399.95 215.59,398.32 215.74,397.17 215.84,396.15 215.9,394.4 215.96,396.15 216.06,397.17 216.21,398.32 216.53,399.95 216.68,400.6 216.99,401.74 217.46,403.17 217.78,404 218.25,405.13 219.03,406.78 219.81,408.22 220.59,409.52 221.37,410.71 222.16,411.8 222.94,412.81 223.72,413.76 224.5,414.65 225.28,415.49 226.07,416.28 226.85,417.02 227.63,417.73 228.41,418.4 229.19,419.03 229.98,419.62 230.76,420.19 231.54,420.72 232.32,421.22 233.1,421.69 233.89,422.14 234.67,422.55 235.45,422.94 236.23,423.3 237.01,423.64 237.8,423.95 238.58,424.23 239.36,424.49 240.14,424.72 240.92,424.92 241.71,425.11 242.49,425.26 243.27,425.4 244.05,425.51 244.83,425.59 245.62,425.65 246.4,425.69 247.18,425.7 247.96,425.69 248.74,425.65 249.53,425.59 250.31,425.51 251.09,425.4 251.87,425.26 252.65,425.11 253.44,424.92 254.22,424.72 255,424.49 255.78,424.23 256.56,423.95 257.35,423.64 258.13,423.3 258.91,422.94 259.69,422.55 260.47,422.14 261.26,421.69 262.04,421.22 262.82,420.72 263.6,420.19 264.38,419.62 265.17,419.03 265.95,418.4 266.73,417.73 267.51,417.02 268.29,416.28 269.08,415.49 269.86,414.65 270.64,413.76 271.42,412.81 272.2,411.8 272.99,410.71 273.77,409.52 274.55,408.22 275.33,406.78 276.11,405.13 276.58,404 276.9,403.17 277.37,401.74 277.68,400.6 277.83,399.95 278.15,398.32 278.3,397.17 278.4,396.15 278.46,394.4 278.52,396.15 278.62,397.17 278.77,398.32 279.09,399.95 279.24,400.6 279.55,401.74 280.02,403.17 280.34,404 280.81,405.13 281.59,406.78 282.37,408.22 283.15,409.52 283.93,410.71 284.72,411.8 285.5,412.81 286.28,413.76 287.06,414.65 287.84,415.49 288.63,416.28 289.41,417.02 290.19,417.73 290.97,418.4 291.75,419.03 292.54,419.62 293.32,420.19 294.1,420.72 294.88,421.22 295.66,421.69 296.45,422.14 297.23,422.55 298.01,422.94 298.79,423.3 299.57,423.64 300.36,423.95 301.14,424.23 301.92,424.49 302.7,424.72 303.48,424.92 304.27,425.11 305.05,425.26 305.83,425.4 306.61,425.51 307.39,425.59 308.18,425.65 308.96,425.69 309.74,425.7" fill="none" stroke="#3d7eea" stroke-width="2" stroke-linejoin="round" stroke-linecap="round" />
<line x1="76.9" y1="408.4" x2="84.55" y2="399.93" stroke="#5cbf6e" stroke-width="2" stroke-dasharray="3.5,1.2"/>
<polygon points="88.9,395.1 87,402.14 82.1,397.72" fill="#5cbf6e"/>
<line x1="137.2" y1="402.3" x2="144.17" y2="399" stroke="#2a8cf0" stroke-width="2" stroke-dasharray="3.5,2"/>
<polygon points="150.5,396 145.67,402.16 142.68,395.83" fill="#2a8cf0"/>
<line x1="197" y1="407" x2="206.92" y2="400.25" stroke="#5cbf6e" stroke-width="2" stroke-dasharray="3.5,1.2"/>
<polygon points="212.3,396.6 208.78,402.98 205.07,397.52" fill="#5cbf6e"/>
<line x1="257" y1="405.2" x2="268.46" y2="399.37" stroke="#2a8cf0" stroke-width="2" stroke-dasharray="3.5,2"/>
<polygon points="274.7,396.2 270.05,402.49 266.87,396.25" fill="#2a8cf0"/>
<text font-size="18.88" fill="#505050" stroke="#000" stroke-width="0.2" transform="translate(3.45,16.65)">(a)</text>
<text font-size="13" fill="#467873" stroke="#000" stroke-width="0.2" transform="translate(48,24.1)">1</text>
<text font-size="13" fill="#467873" stroke="#000" stroke-width="0.2" transform="translate(48.25,64)">0</text>
<text font-size="13" fill="#467873" stroke="#000" stroke-width="0.2" transform="translate(44.1,102.6)">−1</text>
<text font-size="16" fill="#467873" stroke="#000" stroke-width="0.2" transform="translate(38.85,102.9) rotate(-90)">Re(λ′ − ω)<tspan fill="#6c6864">/</tspan></text>
<text font-size="11.52" fill="#f04a32" font-weight="bold" transform="translate(209.7,75.3)">HEps</text>
<text font-size="13" fill="#626262" stroke="#000" stroke-width="0.2" transform="translate(48.5,146.5)">5</text>
<text font-size="13" fill="#626262" font-weight="bold" transform="translate(48.6,204.5)">0</text>
<text font-size="15.92" fill="#467873" stroke="#000" stroke-width="0.2" transform="translate(38.85,205.65) rotate(-90)">−Im(λ′ − ω)<tspan fill="#6c6864">/</tspan></text>
<text font-size="11" fill="#f04a32" font-weight="bold" transform="translate(127.6,159.1)">HEps</text>
<text font-size="13" fill="#467873" font-weight="bold" transform="translate(55.4,215.3)">0</text>
<text font-size="13" fill="#467873" stroke="#000" stroke-width="0.2" transform="translate(113.45,215.5)">0.5</text>
<text font-size="13" fill="#467873" stroke="#000" stroke-width="0.2" transform="translate(179.9,215.3)">1</text>
<text font-size="13" fill="#467873" stroke="#000" stroke-width="0.2" transform="translate(237.05,215.5)">1.5</text>
<text font-size="13" fill="#467873" stroke="#000" stroke-width="0.2" transform="translate(304.4,215.8)">2</text>
<text font-size="18.53" fill="#467873" font-style="italic" stroke="#000" stroke-width="0.2" transform="translate(171.05,232.05)">J<tspan fill="#777">/</tspan>G</text>
<text font-size="16.25" fill="#467873" font-style="italic" stroke="#000" stroke-width="0.2" transform="translate(180.4,250.55)">n</text>
<text font-size="18.81" fill="#505050" stroke="#000" stroke-width="0.2" transform="translate(2.2,257.8)">(b)</text>
<text font-size="13" fill="#4cc24c" font-weight="bold" transform="translate(87.4,256)">1</text>
<text font-size="13" fill="#2b8ff5" font-weight="bold" transform="translate(149.95,256)">2</text>
<text font-size="13" fill="#4cc24c" font-weight="bold" transform="translate(212.3,256)">3</text>
<text font-size="13" fill="#2b8ff5" font-weight="bold" transform="translate(275.7,256)">4</text>
<text font-size="13" fill="#467873" stroke="#000" stroke-width="0.2" transform="translate(46,264.5)">1</text>
<text font-size="13" fill="#467873" stroke="#000" stroke-width="0.2" transform="translate(46.5,304.5)">0</text>
<text font-size="13" fill="#467873" stroke="#000" stroke-width="0.2" transform="translate(41.6,343.5)">−1</text>
<text font-size="16.02" fill="#467873" stroke="#000" stroke-width="0.2" transform="translate(39.2,342.55) rotate(-90)">Re(λ′ − ω)<tspan fill="#6c6864">/</tspan></text>
<text font-size="13" fill="#467873" stroke="#000" stroke-width="0.2" transform="translate(48.3,373.8)">3</text>
<text font-size="13" fill="#467873" stroke="#000" stroke-width="0.2" transform="translate(48,404.45)">2</text>
<text font-size="13" fill="#467873" stroke="#000" stroke-width="0.2" transform="translate(48.15,433.32)">1</text>
<text font-size="15.86" fill="#467873" stroke="#000" stroke-width="0.2" transform="translate(38.9,437.8) rotate(-90)">−Im(λ′ − ω)<tspan fill="#6c6864">/</tspan></text>
<text font-size="13" fill="#467873" font-weight="bold" transform="translate(56.45,448.4)">0</text>
<text font-size="13" fill="#467873" stroke="#000" stroke-width="0.2" transform="translate(87,448.5)">1</text>
<text font-size="13" fill="#467873" stroke="#000" stroke-width="0.2" transform="translate(119,448.5)">2</text>
<text font-size="13" fill="#467873" stroke="#000" stroke-width="0.2" transform="translate(149.4,448.5)">3</text>
<text font-size="13" fill="#467873" stroke="#000" stroke-width="0.2" transform="translate(180.4,448.5)">4</text>
<text font-size="13" fill="#467873" stroke="#000" stroke-width="0.2" transform="translate(211.95,448.5)">5</text>
<text font-size="13" fill="#467873" stroke="#000" stroke-width="0.2" transform="translate(244.25,448.5)">6</text>
<text font-size="13" fill="#467873" stroke="#000" stroke-width="0.2" transform="translate(276.2,448.5)">7</text>
<text font-size="13" fill="#467873" stroke="#000" stroke-width="0.2" transform="translate(304.85,448.5)">8</text>
<text font-size="9.7" fill="#20b828" font-weight="bold" transform="translate(62.9,309.2)">odd</text>
<text font-size="9.7" fill="#20b828" font-weight="bold" transform="translate(62.9,322.1)">HEp</text>
<text font-size="9.7" fill="#2a8cf0" font-weight="bold" transform="translate(115.2,313.2)">even</text>
<text font-size="9.7" fill="#2a8cf0" font-weight="bold" transform="translate(115.2,325.9)">HEp</text>
<text font-size="9.7" fill="#20b828" font-weight="bold" transform="translate(181.8,308.8)">odd</text>
<text font-size="9.7" fill="#20b828" font-weight="bold" transform="translate(181.4,321.8)">HEp</text>
<text font-size="9.7" fill="#2a8cf0" font-weight="bold" transform="translate(238.1,313.9)">even</text>
<text font-size="9.7" fill="#2a8cf0" font-weight="bold" transform="translate(238.1,326.7)">HEp</text>
<text font-size="9.7" fill="#20b828" font-weight="bold" transform="translate(60.8,403.4)">odd</text>
<text font-size="9.7" fill="#20b828" font-weight="bold" transform="translate(60.3,417.3)">HEp</text>
<text font-size="10.3" fill="#2a8cf0" transform="translate(113.3,406.5)">even</text>
<text font-size="10.3" fill="#2a8cf0" transform="translate(113.3,420)">HEp</text>
<text font-size="10.3" fill="#2a9a2a" transform="translate(180.5,405)">odd</text>
<text font-size="10.3" fill="#2a9a2a" transform="translate(179.5,416.7)">HEp</text>
<text font-size="10.3" fill="#2a8cf0" transform="translate(236.3,407.5)">even</text>
<text font-size="10.3" fill="#2a8cf0" transform="translate(236.3,421.2)">HEp</text>
</svg>
</body></html>
